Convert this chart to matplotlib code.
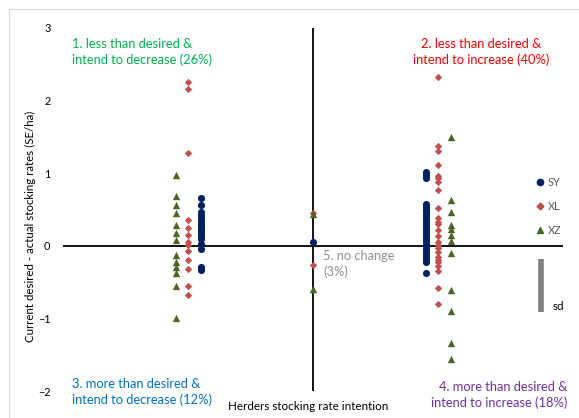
import matplotlib.pyplot as plt
from matplotlib.lines import Line2D
from matplotlib.patches import Rectangle

plt.rcParams['font.family'] = ['Lato', 'DejaVu Sans']

# group positions on the x axis: decrease / no change / increase
groups = [1, 2, 3]

# SY (navy circles)
sy_dec = [0.66, 0.56, 0.47, 0.42, 0.38, 0.34, 0.30, 0.27, 0.23, 0.20, 0.16,
          0.13, 0.09, 0.03, -0.05, -0.29, -0.33]
sy_none = [0.05]
sy_inc = [1.02, 0.97, 0.93, 0.58, 0.54, 0.50, 0.46, 0.42, 0.38, 0.34, 0.30,
          0.26, 0.22, 0.18, 0.14, 0.10, 0.06, 0.02, -0.02, -0.06, -0.10,
          -0.14, -0.18, -0.23, -0.37]

# XL (red diamonds)
xl_dec = [2.26, 2.16, 1.28, 0.36, 0.25, 0.15, 0.05, 0.01, -0.07, -0.20,
          -0.32, -0.56, -0.68]
xl_none = [0.45, -0.26]
xl_inc = [2.32, 1.38, 1.31, 1.11, 0.96, 0.93, 0.88, 0.77, 0.52, 0.38, 0.33,
          0.30, 0.22, 0.14, 0.05, 0.01, -0.03, -0.09, -0.15, -0.19, -0.23,
          -0.28, -0.35, -0.58, -0.80]

# XZ (olive triangles)
xz_dec = [0.98, 0.69, 0.56, 0.45, 0.28, 0.17, 0.08, -0.12, -0.22, -0.29,
          -0.38, -0.56, -0.99]
xz_none = [0.44, -0.59]
xz_inc = [1.50, 0.63, 0.47, 0.28, 0.23, 0.15, 0.07, -0.10, -0.61, -0.90,
          -1.34, -1.56]

sd_top, sd_bottom = -0.18, -0.91

fig = plt.figure(figsize=(5.79, 4.18), dpi=100)
ax = fig.add_axes([63 / 579, 1 - 391 / 418, 500 / 579, 363 / 418])

# series: (values per group, offset per group, marker, colour)
series = [
    ('SY', [sy_dec, sy_none, sy_inc], [0.1, 0, -0.1], 'o', '#002060', 26),
    ('XL', [xl_dec, xl_none, xl_inc], [0, 0, 0], 'D', '#C0504D', 14),
    ('XZ', [xz_dec, xz_none, xz_inc], [-0.1, 0, 0.1], '^', '#4F6228', 28),
]
for name, vals, offs, mk, col, s in series:
    for g, v, o in zip(groups, vals, offs):
        ax.scatter([g + o] * len(v), v, marker=mk, color=col, s=s,
                   linewidths=0, zorder=3)

ax.axhline(0, color='black', lw=1.3, zorder=2)
ax.axvline(2, color='black', lw=1.3, zorder=2)

ax.set_xlim(0, 4)
ax.set_ylim(-2, 3)
ax.set_yticks([-2, -1, 0, 1, 2, 3])
ax.set_xticks([])
for sp in ax.spines.values():
    sp.set_visible(False)
ax.tick_params(axis='y', length=0, pad=9, labelsize=7.8)

# sd bar
ax.plot([3.82, 3.82], [sd_top, sd_bottom], color='#808080', lw=4,
        solid_capstyle='butt')
ax.text(3.96, -0.84, 'sd', fontsize=8.5, ha='center', va='center')

handles = [Line2D([], [], ls='', marker=m, color=c, markersize=ms)
           for m, c, ms in [('o', '#002060', 4.5), ('D', '#C0504D', 3.5),
                            ('^', '#4F6228', 4.5)]]
leg = ax.legend(handles, ['SY', 'XL', 'XZ'], loc='upper left',
                bbox_to_anchor=(0.935, 0.605), frameon=False, fontsize=7.8,
                handlelength=0.8, handletextpad=0.3, labelspacing=1.2,
                borderpad=0)
for t in leg.get_texts():
    t.set_color('#595959')

def ftext(x, y, s, **kw):
    fig.text(x / 579, 1 - y / 418, s, fontsize=9.3, va='center',
             linespacing=1.4, **kw)

ftext(72, 52, '1. less than desired &\nintend to decrease (26%)',
      color='#00B050', ha='left')
ftext(481, 52, '2. less than desired &\nintend to increase (40%)',
      color='#FF0000', ha='center', multialignment='center')
ftext(72, 392, '3. more than desired &\nintend to decrease (12%)',
      color='#0070C0', ha='left')
ftext(567, 395, '4. more than desired &\nintend to increase (18%)',
      color='#7030A0', ha='right', multialignment='right')
ftext(323, 264, '5. no change\n(3%)', color='#909090', ha='left')
fig.text(308 / 579, 1 - 407 / 418, 'Herders stocking rate intention',
         fontsize=8.4, ha='center', va='center')
fig.text(30 / 579, 1 - 226 / 418,
         'Current desired - actual stocking rates (SE/ha)', fontsize=8.3,
         rotation=90, ha='center', va='center')

fig.patches.append(Rectangle((9 / 579, -0.1), 1, 1 - 9 / 418 + 0.1,
                             transform=fig.transFigure, fill=False,
                             edgecolor='#D9D9D9', lw=0.8))

fig.savefig('out.png', dpi=100)
